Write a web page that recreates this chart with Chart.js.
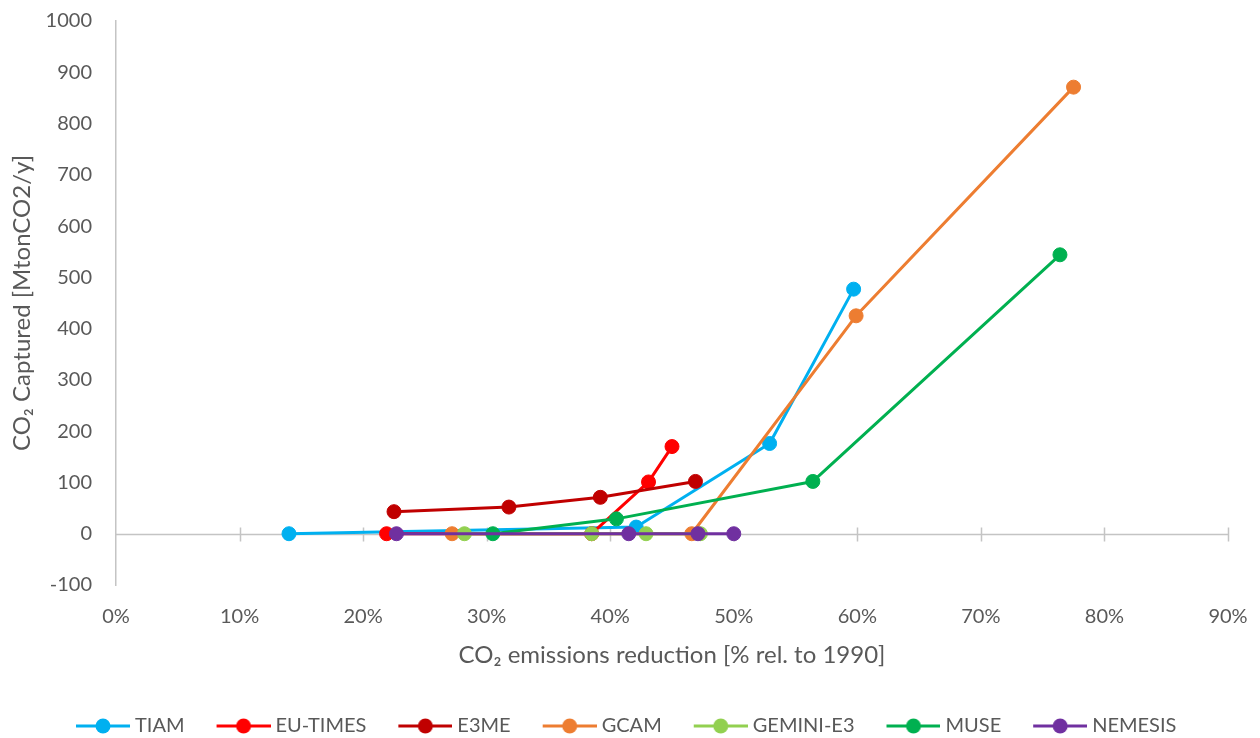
<!DOCTYPE html>
<html>
<head>
<meta charset="utf-8">
<title>CO₂ captured vs emissions reduction</title>
<script src="https://cdn.jsdelivr.net/npm/chart.js@4/dist/chart.umd.min.js"></script>
<style>
  html, body { margin: 0; padding: 0; background: #ffffff; }
  #wrap { width: 1260px; height: 738px; position: relative; }
</style>
</head>
<body>
<div id="wrap"><canvas id="chart" width="1260" height="738"></canvas></div>
<script>
// Model names and their colours
const seriesNames = ['TIAM', 'EU-TIMES', 'E3ME', 'GCAM', 'GEMINI-E3', 'MUSE', 'NEMESIS'];
const seriesColors = ['#00B0F0', '#FF0000', '#C00000', '#ED7D31', '#92D050', '#00B050', '#7030A0'];

// Emissions reduction (% rel. to 1990) and CO2 captured (MtonCO2/y) per model
const tiamReduction     = [14.0, 42.1, 52.9, 59.7];
const tiamCaptured      = [0, 13, 176, 477];
const euTimesReduction  = [21.9, 38.5, 43.1, 45.0];
const euTimesCaptured   = [0, 0, 101, 170];
const e3meReduction     = [22.5, 31.8, 39.2, 46.9];
const e3meCaptured      = [43, 52, 71, 102];
const gcamReduction     = [27.2, 46.6, 59.9, 77.5];
const gcamCaptured      = [0, 0, 425, 871];
const geminiReduction   = [28.2, 38.5, 42.9, 47.3];
const geminiCaptured    = [0, 0, 0, 0];
const museReduction     = [30.5, 40.5, 56.4, 76.4];
const museCaptured      = [0, 29, 102, 544];
const nemesisReduction  = [22.7, 41.5, 47.1, 50.0];
const nemesisCaptured   = [0, 0, 0, 0];

// Tick values on each axis
const xTickValues = [0, 10, 20, 30, 40, 50, 60, 70, 80, 90];
const yTickValues = [-100, 0, 100, 200, 300, 400, 500, 600, 700, 800, 900, 1000];

const reductions = [tiamReduction, euTimesReduction, e3meReduction, gcamReduction, geminiReduction, museReduction, nemesisReduction];
const captured   = [tiamCaptured, euTimesCaptured, e3meCaptured, gcamCaptured, geminiCaptured, museCaptured, nemesisCaptured];

// Layout
const PLOT = { left: 116, top: 21, right: 1228, bottom: 585 };
const TEXT_COLOR = '#595959';
const AXIS_COLOR = '#C4C4C4';
const FONT = 'Lato, "Open Sans", sans-serif';
const LEGEND_FONT = 20;
const LEGEND_PAD = 10;
const LEGEND_BOX = 71;          // slot reserved in front of each legend label
const LEGEND_ROW_X = 54;        // where the first legend slot begins
const LEGEND_MID_Y = 726;

// Legend icon: short line with a dot; drawn at the right end of the slot
function legendIcon(color) {
  const c = document.createElement('canvas');
  c.width = LEGEND_BOX + 10; c.height = 18;
  const g = c.getContext('2d');
  const x0 = c.width - 54, x1 = c.width;
  g.strokeStyle = color; g.lineWidth = 3; g.lineCap = 'butt';
  g.beginPath(); g.moveTo(x0, 9); g.lineTo(x1, 9); g.stroke();
  g.fillStyle = color;
  g.beginPath(); g.arc((x0 + x1) / 2, 9, 7.5, 0, Math.PI * 2); g.fill();
  return c;
}
const legendIcons = seriesColors.map(legendIcon);

const datasets = seriesNames.map((name, i) => ({
  label: name,
  data: reductions[i].map((x, k) => ({ x: x, y: captured[i][k] })),
  showLine: true,
  borderColor: seriesColors[i],
  backgroundColor: seriesColors[i],
  borderWidth: 3,
  borderCapStyle: 'round',
  borderJoinStyle: 'round',
  pointRadius: 7,
  pointBorderWidth: 1,
  pointBorderColor: seriesColors[i],
  pointBackgroundColor: seriesColors[i],
  pointHoverRadius: 7,
  tension: 0,
  order: seriesNames.length - i
}));

// Horizontal zero line with tick marks across it
const zeroAxis = {
  id: 'zeroAxis',
  beforeDatasetsDraw(chart) {
    const { ctx, chartArea, scales } = chart;
    const y0 = Math.round(scales.y.getPixelForValue(0)) + 0.5;
    ctx.save();
    ctx.strokeStyle = AXIS_COLOR;
    ctx.lineWidth = 1.5;
    ctx.beginPath();
    ctx.moveTo(chartArea.left, y0);
    ctx.lineTo(chartArea.right, y0);
    scales.x.ticks.forEach(t => {
      if (t.value === 0) return;
      const px = Math.round(scales.x.getPixelForValue(t.value)) + 0.5;
      ctx.moveTo(px, y0 - 7);
      ctx.lineTo(px, y0 + 7);
    });
    ctx.stroke();
    ctx.restore();
  }
};

// Place the legend row below the axis title
const legendPlacement = {
  id: 'legendPlacement',
  afterLayout(chart) {
    const lg = chart.legend;
    if (!lg || !lg.lineWidths) return;
    const pad = lg.options.labels.padding;
    const rowX = ((lg.left + pad) + (lg.right - lg.lineWidths[0])) / 2;
    const dx = LEGEND_ROW_X - rowX;
    const dy = LEGEND_MID_Y - (lg.top + pad + LEGEND_FONT / 2);
    lg.left += dx; lg.right += dx;
    lg.top += dy; lg.bottom += dy;
  }
};

new Chart(document.getElementById('chart'), {
  type: 'scatter',
  data: { datasets },
  plugins: [zeroAxis, legendPlacement],
  options: {
    responsive: false,
    animation: false,
    events: [],
    layout: { padding: { top: PLOT.top, right: 1260 - PLOT.right, left: 0, bottom: 0 } },
    scales: {
      x: {
        type: 'linear',
        min: xTickValues[0],
        max: xTickValues[xTickValues.length - 1],
        afterBuildTicks(scale) { scale.ticks = xTickValues.map(v => ({ value: v })); },
        afterFit(scale) {
          scale.height = scale.chart.height - PLOT.bottom - scale.chart.legend.height;
          scale.paddingLeft = 0;
          scale.paddingRight = 0;
        },
        border: { display: false },
        grid: { display: false, drawTicks: false },
        ticks: {
          padding: 20,
          color: TEXT_COLOR,
          font: { family: FONT, size: 20 },
          maxRotation: 0,
          callback: v => v + '%'
        },
        title: {
          display: true,
          text: 'CO₂ emissions reduction [% rel. to 1990]',
          color: TEXT_COLOR,
          font: { family: FONT, size: 24 },
          padding: { top: 0, bottom: 28 }
        }
      },
      y: {
        type: 'linear',
        min: yTickValues[0],
        max: yTickValues[yTickValues.length - 1],
        afterBuildTicks(scale) { scale.ticks = yTickValues.map(v => ({ value: v })); },
        afterFit(scale) {
          scale.width = PLOT.left;
          scale.paddingTop = 0;
          scale.paddingBottom = 0;
        },
        border: { display: true, color: AXIS_COLOR, width: 1.5 },
        grid: { display: false, drawTicks: false },
        ticks: {
          padding: 24,
          color: TEXT_COLOR,
          font: { family: FONT, size: 20 },
          callback: v => String(v)
        },
        title: {
          display: true,
          text: 'CO₂ Captured [MtonCO2/y]',
          color: TEXT_COLOR,
          font: { family: FONT, size: 24 },
          padding: { top: 8, bottom: 0 }
        }
      }
    },
    plugins: {
      tooltip: { enabled: false },
      legend: {
        position: 'bottom',
        align: 'center',
        labels: {
          usePointStyle: true,
          pointStyleWidth: LEGEND_BOX,
          boxHeight: 16,
          padding: LEGEND_PAD,
          color: TEXT_COLOR,
          font: { family: FONT, size: LEGEND_FONT },
          generateLabels(chart) {
            return chart.data.datasets.map((ds, i) => ({
              text: ds.label,
              pointStyle: legendIcons[i],
              fillStyle: ds.borderColor,
              strokeStyle: ds.borderColor,
              fontColor: TEXT_COLOR,
              lineWidth: 0,
              hidden: false,
              datasetIndex: i
            }));
          }
        }
      }
    }
  }
});
</script>
</body>
</html>
